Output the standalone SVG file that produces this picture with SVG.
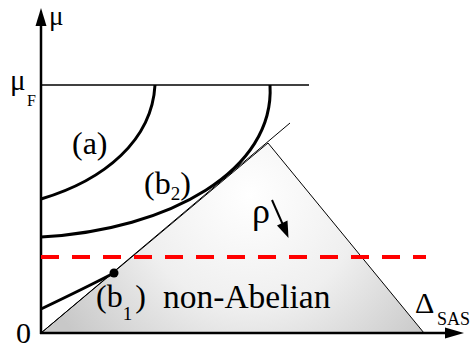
<svg xmlns="http://www.w3.org/2000/svg" width="472" height="350" viewBox="0 0 472 350">
<defs>
<radialGradient id="g" gradientUnits="userSpaceOnUse" cx="250" cy="195" r="225">
<stop offset="0" stop-color="#ffffff"/>
<stop offset="0.5" stop-color="#efefef"/>
<stop offset="1" stop-color="#c8c8c8"/>
</radialGradient>
</defs>
<g id="region">
<polygon points="41,333 268,143 424,333" fill="url(#g)" stroke="#000" stroke-width="1"/>
<line x1="41" y1="333" x2="290" y2="123" stroke="#000" stroke-width="1"/>
</g>
<g id="connectors">
<line x1="41" y1="334" x2="41" y2="24" stroke="#000" stroke-width="2.5"/>
<path d="M41,8 L35.5,26 L46.5,26 Z" fill="#000"/>
<line x1="40" y1="333" x2="446" y2="333" stroke="#000" stroke-width="2.5"/>
<path d="M464,333 L445,327.5 L445,338.5 Z" fill="#000"/>
<line x1="41" y1="85" x2="309" y2="85" stroke="#000" stroke-width="1.5"/>
<line x1="41" y1="257" x2="426" y2="257" stroke="#f00" stroke-width="4" stroke-dasharray="18 13"/>
<path d="M41,199 C105,180 152,140 155,85" fill="none" stroke="#000" stroke-width="3"/>
<path d="M41,237 C170,230 275,170 270,85" fill="none" stroke="#000" stroke-width="3"/>
<path d="M41,309 Q85,288 114,273" fill="none" stroke="#000" stroke-width="3"/>
<circle cx="114" cy="273" r="4.5" fill="#000"/>
<line x1="272" y1="200" x2="283" y2="225" stroke="#000" stroke-width="2"/>
<path d="M288.5,238 L277,225.5 L287.5,220.5 Z" fill="#000"/>
</g>
<g id="labels" font-family="Liberation Serif, Times New Roman, serif" fill="#000">
<text x="49" y="25" font-size="27">μ</text>
<text x="10" y="90" font-size="29">μ</text>
<text x="27" y="106" font-size="16">F</text>
<text x="72" y="154" font-size="32">(a)</text>
<text x="144" y="194" font-size="32">(b<tspan font-size="19" dy="6">2</tspan><tspan dy="-6">)</tspan></text>
<text x="96" y="307" font-size="32">(b<tspan font-size="19" dy="13">1</tspan><tspan dy="-13" dx="3">)</tspan></text>
<text x="163" y="308" font-size="33.5">non-Abelian</text>
<text x="252" y="223" font-size="36">ρ</text>
<text x="415" y="313" font-size="30">Δ</text>
<text x="437" y="325" font-size="18">SAS</text>
<text x="16" y="343" font-size="30">0</text>
</g>
</svg>
